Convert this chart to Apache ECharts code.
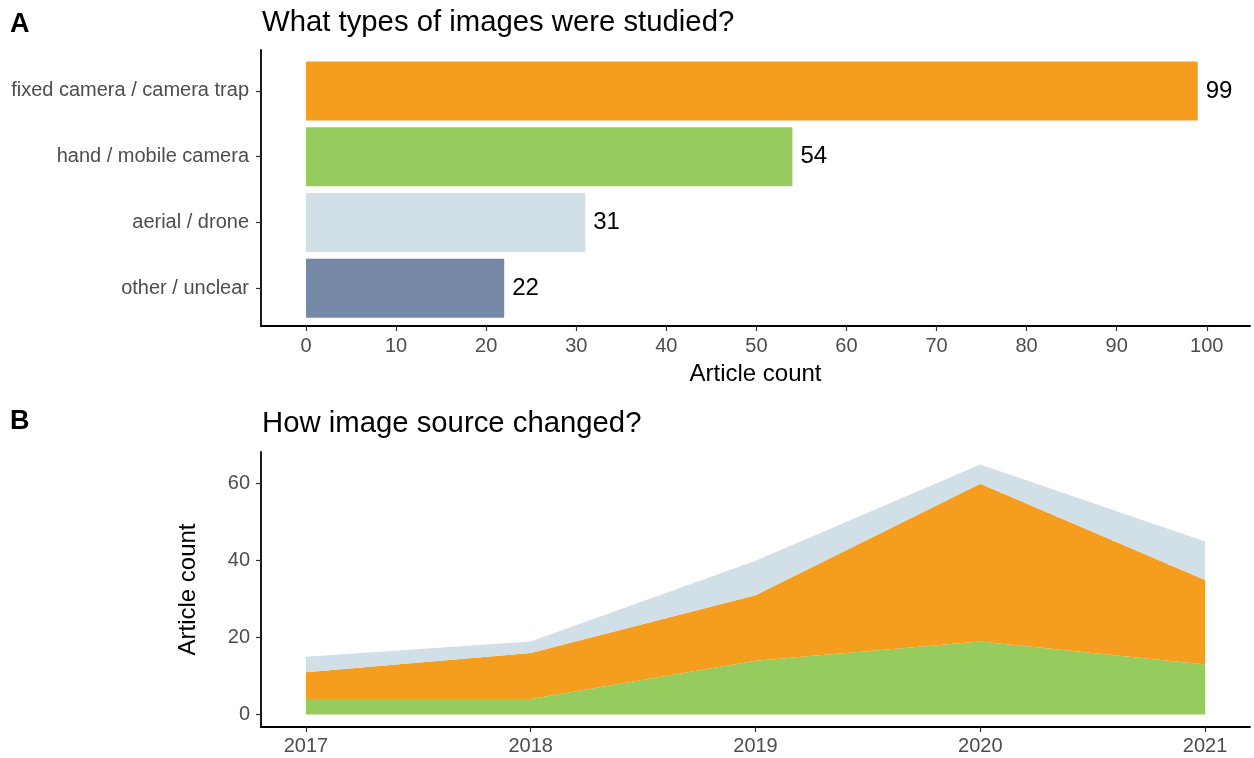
<!DOCTYPE html>
<html>
<head>
<meta charset="utf-8">
<script src="https://cdn.jsdelivr.net/npm/echarts@6/dist/echarts.min.js"></script>
<style>
  html, body { margin: 0; padding: 0; background: #fff; }
  #main { width: 1254px; height: 758px; }
</style>
</head>
<body>
<div id="main"></div>
<script>
// panel A: image types
var imageTypes = ['fixed camera / camera trap', 'hand / mobile camera', 'aerial / drone', 'other / unclear'];
var typeCounts = [99, 54, 31, 22];
var typeColors = ['#F59D1F', '#95CC5D', '#D1DFE6', '#7589A6'];
var countTicks = [0, 10, 20, 30, 40, 50, 60, 70, 80, 90, 100];

// panel B: image source by year (stacked)
var years = [2017, 2018, 2019, 2020, 2021];
var handMobile = [4, 4, 14, 19, 13];
var fixedTrap = [7, 12, 17, 41, 22];
var aerialDrone = [4, 3, 9, 5, 10];
var yearTicks = [2017, 2018, 2019, 2020, 2021];
var yTicksB = [0, 20, 40, 60];

var FONT = '"Liberation Sans", Arial, Helvetica, sans-serif';
var tickGrey = '#4D4D4D';

// value first, year second, so the stack runs on the count
function pairs(ys, xs) {
  return ys.map(function (y, i) { return [y, xs[i]]; });
}

var axisLineStyle = { show: true, onZero: false, lineStyle: { color: '#000', width: 1.8 } };
var tickLine = { color: '#333', width: 1.2 };

var option = {
  animation: false,
  backgroundColor: '#fff',
  textStyle: { fontFamily: FONT },
  title: [
    { text: 'A', left: 10, top: 11, padding: 0,
      textStyle: { fontFamily: FONT, fontSize: 27, fontWeight: 'bold', color: '#000' } },
    { text: 'What types of images were studied?', left: 262, top: 8, padding: 0,
      textStyle: { fontFamily: FONT, fontSize: 29.3, fontWeight: 'normal', color: '#000' } },
    { text: 'B', left: 10, top: 408, padding: 0,
      textStyle: { fontFamily: FONT, fontSize: 27, fontWeight: 'bold', color: '#000' } },
    { text: 'How image source changed?', left: 262, top: 409, padding: 0,
      textStyle: { fontFamily: FONT, fontSize: 29.3, fontWeight: 'normal', color: '#000' } }
  ],
  grid: [
    { left: 261, right: 4, top: 58, height: 263 },   // bars
    { left: 261, right: 4, top: 50, height: 276 },   // frame for A's y axis line
    { left: 261, right: 4, top: 452, bottom: 31 }    // area chart
  ],
  xAxis: [
    {
      gridIndex: 0, type: 'value', min: -5, max: 104.8, offset: 5,
      name: 'Article count', nameLocation: 'middle', nameGap: 36,
      nameTextStyle: { fontFamily: FONT, fontSize: 24, color: '#000' },
      axisLine: axisLineStyle,
      axisTick: { show: true, length: 5, lineStyle: tickLine, customValues: countTicks },
      axisLabel: { color: tickGrey, fontSize: 20, margin: 10, customValues: countTicks },
      splitLine: { show: false }
    },
    {
      gridIndex: 1, type: 'value', show: false
    },
    {
      gridIndex: 2, type: 'value', min: 2016.8, max: 2021.2,
      axisLine: axisLineStyle,
      axisTick: { show: true, length: 5, lineStyle: tickLine, customValues: yearTicks },
      axisLabel: {
        color: tickGrey, fontSize: 20, margin: 9, customValues: yearTicks,
        formatter: function (v) { return String(Math.round(v)); }
      },
      splitLine: { show: false }
    }
  ],
  yAxis: [
    {
      gridIndex: 0, type: 'category', data: imageTypes, inverse: true,
      axisLine: { show: false, onZero: false },
      axisTick: { show: true, alignWithLabel: true, length: 5, lineStyle: tickLine },
      axisLabel: { color: tickGrey, fontSize: 20, margin: 12 }
    },
    {
      gridIndex: 1, type: 'value',
      axisLine: axisLineStyle,
      axisTick: { show: false }, axisLabel: { show: false }, splitLine: { show: false }
    },
    {
      gridIndex: 2, type: 'value', min: -3.25, max: 68.25,
      name: 'Article count', nameLocation: 'middle', nameGap: 61, nameRotate: 90,
      nameTextStyle: { fontFamily: FONT, fontSize: 24, color: '#000' },
      axisLine: axisLineStyle,
      axisTick: { show: true, length: 5, lineStyle: tickLine, customValues: yTicksB },
      axisLabel: { color: tickGrey, fontSize: 20, margin: 11, customValues: yTicksB },
      splitLine: { show: false }
    }
  ],
  series: [
    {
      type: 'bar', xAxisIndex: 0, yAxisIndex: 0, barWidth: 59,
      data: typeCounts.map(function (v, i) {
        return { value: v, itemStyle: { color: typeColors[i] } };
      }),
      label: { show: true, position: 'right', distance: 8, color: '#000', fontSize: 24, fontFamily: FONT }
    },
    {
      name: 'hand / mobile camera', type: 'line', xAxisIndex: 2, yAxisIndex: 2, stack: 'src',
      data: pairs(handMobile, years), encode: { x: 1, y: 0 }, symbol: 'none',
      lineStyle: { width: 0 }, areaStyle: { color: typeColors[1], opacity: 1 }
    },
    {
      name: 'fixed camera / camera trap', type: 'line', xAxisIndex: 2, yAxisIndex: 2, stack: 'src',
      data: pairs(fixedTrap, years), encode: { x: 1, y: 0 }, symbol: 'none',
      lineStyle: { width: 0 }, areaStyle: { color: typeColors[0], opacity: 1 }
    },
    {
      name: 'aerial / drone', type: 'line', xAxisIndex: 2, yAxisIndex: 2, stack: 'src',
      data: pairs(aerialDrone, years), encode: { x: 1, y: 0 }, symbol: 'none',
      lineStyle: { width: 0 }, areaStyle: { color: typeColors[2], opacity: 1 }
    }
  ]
};

var chart = echarts.init(document.getElementById('main'));
chart.setOption(option);
</script>
</body>
</html>
